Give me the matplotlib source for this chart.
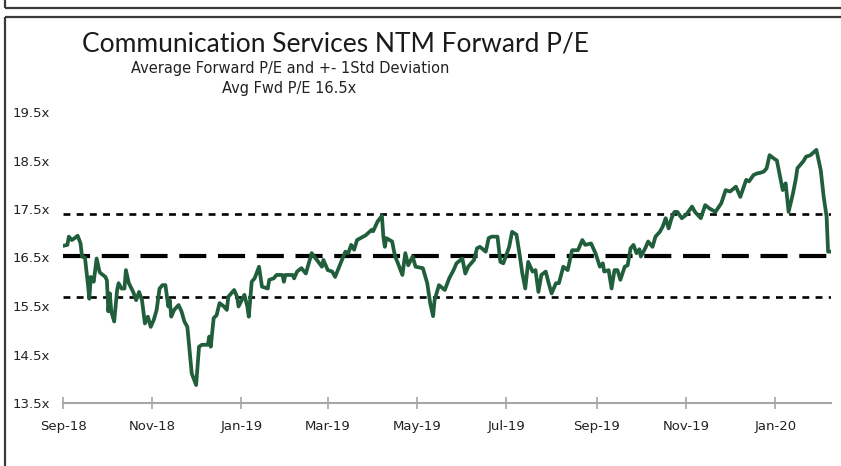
#!/usr/bin/env python3
"""
Communication Services NTM Forward P/E with average and +/- 1 std deviation bands
"""

import numpy as np
import pandas as pd
import matplotlib
matplotlib.use('Agg')
import matplotlib.pyplot as plt
import matplotlib.dates as mdates
from matplotlib.lines import Line2D
from matplotlib.ticker import FuncFormatter

# Forward P/E readings
DATES = [
    '2018-09-01', '2018-09-04', '2018-09-05', '2018-09-07', '2018-09-09', '2018-09-11',
    '2018-09-13', '2018-09-14', '2018-09-16', '2018-09-18', '2018-09-19', '2018-09-20',
    '2018-09-22', '2018-09-23', '2018-09-24', '2018-09-26', '2018-09-27', '2018-09-30',
    '2018-10-01', '2018-10-02', '2018-10-03', '2018-10-04', '2018-10-06', '2018-10-08',
    '2018-10-09', '2018-10-11', '2018-10-13', '2018-10-14', '2018-10-16', '2018-10-19',
    '2018-10-21', '2018-10-23', '2018-10-25', '2018-10-27', '2018-10-29', '2018-10-31',
    '2018-11-02', '2018-11-04', '2018-11-06', '2018-11-08', '2018-11-10', '2018-11-12',
    '2018-11-13', '2018-11-14', '2018-11-16', '2018-11-19', '2018-11-21', '2018-11-23',
    '2018-11-25', '2018-11-28', '2018-12-01', '2018-12-03', '2018-12-05', '2018-12-09',
    '2018-12-10', '2018-12-11', '2018-12-13', '2018-12-15', '2018-12-17', '2018-12-20',
    '2018-12-22', '2018-12-23', '2018-12-27', '2018-12-29', '2018-12-30', '2019-01-03',
    '2019-01-05', '2019-01-06', '2019-01-08', '2019-01-10', '2019-01-13', '2019-01-15',
    '2019-01-19', '2019-01-20', '2019-01-23', '2019-01-25', '2019-01-29', '2019-01-30',
    '2019-01-31', '2019-02-05', '2019-02-06', '2019-02-08', '2019-02-11', '2019-02-14',
    '2019-02-18', '2019-02-25', '2019-02-26', '2019-03-01', '2019-03-04', '2019-03-06',
    '2019-03-13', '2019-03-15', '2019-03-17', '2019-03-19', '2019-03-21', '2019-03-27',
    '2019-03-31', '2019-04-01', '2019-04-04', '2019-04-07', '2019-04-08', '2019-04-09',
    '2019-04-10', '2019-04-14', '2019-04-16', '2019-04-18', '2019-04-21', '2019-04-23',
    '2019-04-25', '2019-04-28', '2019-04-30', '2019-05-05', '2019-05-08', '2019-05-10',
    '2019-05-12', '2019-05-13', '2019-05-16', '2019-05-20', '2019-05-23', '2019-05-26',
    '2019-05-28', '2019-06-01', '2019-06-03', '2019-06-05', '2019-06-09', '2019-06-11',
    '2019-06-13', '2019-06-17', '2019-06-19', '2019-06-21', '2019-06-25', '2019-06-27',
    '2019-06-29', '2019-07-03', '2019-07-05', '2019-07-08', '2019-07-10', '2019-07-12',
    '2019-07-14', '2019-07-16', '2019-07-19', '2019-07-21', '2019-07-23', '2019-07-25',
    '2019-07-28', '2019-07-30', '2019-08-01', '2019-08-04', '2019-08-06', '2019-08-09',
    '2019-08-12', '2019-08-15', '2019-08-19', '2019-08-22', '2019-08-24', '2019-08-28',
    '2019-08-31', '2019-09-03', '2019-09-05', '2019-09-06', '2019-09-09', '2019-09-11',
    '2019-09-13', '2019-09-15', '2019-09-17', '2019-09-20', '2019-09-22', '2019-09-24',
    '2019-09-26', '2019-09-28', '2019-09-30', '2019-10-01', '2019-10-04', '2019-10-06',
    '2019-10-09', '2019-10-11', '2019-10-14', '2019-10-16', '2019-10-18', '2019-10-20',
    '2019-10-22', '2019-10-24', '2019-10-26', '2019-10-29', '2019-11-01', '2019-11-05',
    '2019-11-07', '2019-11-11', '2019-11-14', '2019-11-17', '2019-11-21', '2019-11-25',
    '2019-11-28', '2019-12-01', '2019-12-05', '2019-12-08', '2019-12-12', '2019-12-14',
    '2019-12-17', '2019-12-20', '2019-12-21', '2019-12-24', '2019-12-26', '2019-12-28',
    '2019-12-31', '2020-01-02', '2020-01-04', '2020-01-06', '2020-01-08', '2020-01-10',
    '2020-01-13', '2020-01-15', '2020-01-16', '2020-01-20', '2020-01-22', '2020-01-25',
    '2020-01-29', '2020-02-01', '2020-02-03', '2020-02-05', '2020-02-06', '2020-02-08',
]

FWD_PE = [
    16.74, 16.76, 16.93, 16.86, 16.90, 16.95,
    16.79, 16.52, 16.50, 15.96, 15.65, 16.10,
    16.00, 16.24, 16.48, 16.20, 16.17, 16.10,
    16.03, 15.39, 15.76, 15.39, 15.18, 15.83,
    15.97, 15.86, 15.86, 16.24, 15.97, 15.79,
    15.62, 15.79, 15.62, 15.14, 15.28, 15.07,
    15.21, 15.42, 15.86, 15.93, 15.93, 15.49,
    15.62, 15.28, 15.42, 15.52, 15.39, 15.18,
    15.07, 14.11, 13.87, 14.66, 14.70, 14.70,
    14.87, 14.66, 15.25, 15.31, 15.56, 15.49,
    15.42, 15.69, 15.83, 15.69, 15.49, 15.73,
    15.49, 15.28, 16.00, 16.07, 16.31, 15.90,
    15.86, 16.04, 16.07, 16.14, 16.14, 16.00,
    16.14, 16.14, 16.07, 16.21, 16.28, 16.17,
    16.59, 16.31, 16.45, 16.24, 16.21, 16.10,
    16.62, 16.59, 16.76, 16.66, 16.86, 16.96,
    17.07, 17.04, 17.24, 17.36, 16.93, 16.72,
    16.90, 16.83, 16.52, 16.38, 16.14, 16.59,
    16.34, 16.52, 16.31, 16.28, 15.97, 15.56,
    15.29, 15.62, 15.93, 15.83, 16.07, 16.24,
    16.38, 16.48, 16.17, 16.31, 16.45, 16.69,
    16.72, 16.62, 16.90, 16.93, 16.93, 16.41,
    16.38, 16.72, 17.03, 16.97, 16.59, 16.17,
    15.86, 16.41, 16.21, 16.24, 15.79, 16.14,
    16.21, 15.97, 15.76, 15.97, 15.97, 16.31,
    16.24, 16.65, 16.65, 16.86, 16.76, 16.79,
    16.59, 16.31, 16.38, 16.21, 16.24, 15.86,
    16.24, 16.24, 16.04, 16.31, 16.34, 16.69,
    16.76, 16.59, 16.67, 16.52, 16.69, 16.83,
    16.72, 16.93, 17.03, 17.14, 17.31, 17.10,
    17.31, 17.44, 17.44, 17.31, 17.38, 17.55,
    17.44, 17.31, 17.58, 17.51, 17.44, 17.62,
    17.89, 17.86, 17.96, 17.75, 18.10, 18.07,
    18.20, 18.24, 18.24, 18.27, 18.34, 18.61,
    18.54, 18.50, 18.20, 17.89, 18.03, 17.44,
    17.82, 18.13, 18.34, 18.48, 18.58, 18.61,
    18.72, 18.30, 17.75, 17.34, 16.62, 16.62,
]

AVG_PE = 16.54
STD_PE = 0.86

Y_TICKS = [13.5, 14.5, 15.5, 16.5, 17.5, 18.5, 19.5]

TITLE = 'Communication Services NTM Forward P/E'
SUBTITLE = 'Average Forward P/E and +- 1Std Deviation'
AVG_LABEL = 'Avg Fwd P/E 16.5x'

dates = pd.to_datetime(DATES)
pe = np.array(FWD_PE)

fig = plt.figure(figsize=(8.41, 4.66), dpi=100)
ax = fig.add_axes([63 / 841, 63 / 466, 768 / 841, 291 / 466])

x0 = pd.Timestamp('2018-09-01')
x1 = pd.Timestamp('2020-02-08')

# average and +/- 1 std lines
ax.plot([x0, x1], [AVG_PE, AVG_PE], color='black', lw=3.0,
        dashes=(6.5, 2.8), solid_capstyle='butt', zorder=2)
for lvl in (AVG_PE + STD_PE, AVG_PE - STD_PE):
    ax.plot([x0, x1], [lvl, lvl], color='black', lw=1.9,
            dashes=(2.6, 2.4), zorder=2)

ax.plot(dates, pe, color='#215e3b', lw=2.7, zorder=3, solid_joinstyle='round')

ax.set_xlim(x0, x1)
ax.set_ylim(13.5, 19.5)

ax.xaxis.set_major_locator(mdates.MonthLocator(bymonth=[1, 3, 5, 7, 9, 11]))
ax.xaxis.set_major_formatter(mdates.DateFormatter('%b-%y'))
ax.set_yticks(Y_TICKS)
ax.yaxis.set_major_formatter(FuncFormatter(lambda v, p: f'{v:.1f}x'))

for side in ('top', 'right', 'left'):
    ax.spines[side].set_visible(False)
ax.spines['bottom'].set_color('#a6a6a6')
ax.spines['bottom'].set_linewidth(1.5)
ax.spines['bottom'].set_zorder(1)

ax.tick_params(axis='x', direction='inout', length=8, width=1.2, color='#a6a6a6',
               pad=8, labelsize=9.5, labelcolor='#222222')
ax.tick_params(axis='y', length=0, pad=9.5, labelsize=9.5, labelcolor='#222222')

# titles
fig.text(82 / 841, 1 - 44 / 466, TITLE, fontsize=19, family=['Lato', 'DejaVu Sans'],
         va='center', ha='left', color='#1a1a1a')
fig.text(131 / 841, 1 - 68 / 466, SUBTITLE, fontsize=10.5,
         va='center', ha='left', color='#222222')
fig.text(222 / 841, 1 - 88 / 466, AVG_LABEL, fontsize=10.5,
         va='center', ha='left', color='#222222')

# panel frame
frame = dict(color='#3a3a3a', lw=1.6, transform=fig.transFigure, solid_capstyle='butt')
fig.add_artist(Line2D([5 / 841, 1.01], [1 - 8 / 466, 1 - 8 / 466], **frame))
fig.add_artist(Line2D([5 / 841, 5 / 841], [1.01, 1 - 8 / 466], **frame))
fig.add_artist(Line2D([5 / 841, 1.01], [1 - 17 / 466, 1 - 17 / 466], **frame))
fig.add_artist(Line2D([5 / 841, 5 / 841], [1 - 17 / 466, -0.01], **frame))

fig.savefig('out.png', dpi=100)
